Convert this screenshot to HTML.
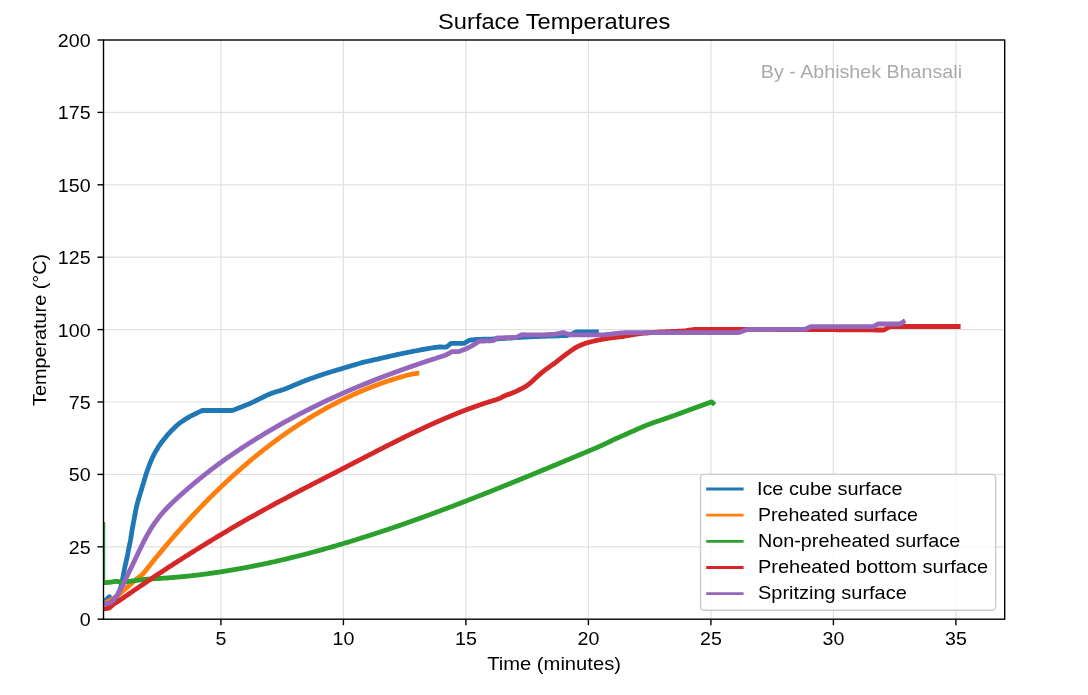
<!DOCTYPE html>
<html><head><meta charset="utf-8"><style>
html,body{margin:0;padding:0;background:#fff;overflow:hidden;}
svg{display:block;will-change:transform;}
text{font-family:"Liberation Sans",sans-serif;fill:#000;}
</style></head><body>
<svg width="1088" height="695" viewBox="0 0 1088 695">
<defs><clipPath id="ax"><rect x="103.5" y="40.0" width="901.2" height="579.2"/></clipPath></defs>
<rect width="1088" height="695" fill="#fff"/>
<g stroke="#e1e1e1" stroke-width="1.2"><line x1="220.9" y1="40.0" x2="220.9" y2="619.2"/><line x1="343.4" y1="40.0" x2="343.4" y2="619.2"/><line x1="465.9" y1="40.0" x2="465.9" y2="619.2"/><line x1="588.4" y1="40.0" x2="588.4" y2="619.2"/><line x1="710.9" y1="40.0" x2="710.9" y2="619.2"/><line x1="833.4" y1="40.0" x2="833.4" y2="619.2"/><line x1="955.9" y1="40.0" x2="955.9" y2="619.2"/><line x1="103.5" y1="546.8" x2="1004.7" y2="546.8"/><line x1="103.5" y1="474.4" x2="1004.7" y2="474.4"/><line x1="103.5" y1="402.0" x2="1004.7" y2="402.0"/><line x1="103.5" y1="329.6" x2="1004.7" y2="329.6"/><line x1="103.5" y1="257.2" x2="1004.7" y2="257.2"/><line x1="103.5" y1="184.8" x2="1004.7" y2="184.8"/><line x1="103.5" y1="112.4" x2="1004.7" y2="112.4"/></g>
<text x="760.80" y="77.7" font-size="18.2" textLength="201.23" lengthAdjust="spacingAndGlyphs" style="fill:#aaaaaa">By - Abhishek Bhansali</text>
<g clip-path="url(#ax)" fill="none" stroke-width="4.8" stroke-linejoin="round" stroke-linecap="butt">
<rect x="103.6" y="522" width="1.6" height="61" fill="#2ca02c" stroke="none"/>
<polyline points="103.6,601.5 104.4,601.0 105.3,600.4 106.1,599.9 106.9,599.2 107.5,598.5 108.2,597.8 108.9,597.0 109.5,596.8 109.7,597.7 110.0,598.7 110.3,599.7 110.6,600.6 110.9,601.5 111.8,601.0 112.7,600.6 113.6,600.2 114.5,599.7 115.4,599.3 116.1,598.7 116.5,597.8 116.9,596.9 117.3,595.9 117.7,595.0 118.0,594.1 118.4,593.2 118.8,592.2 119.2,591.3 119.6,590.4 120.0,589.5 120.3,588.5 120.6,587.6 120.9,586.6 121.1,585.7 121.4,584.7 121.6,583.7 121.8,582.8 122.0,581.8 122.3,580.8 122.5,579.8 122.7,578.8 122.8,577.9 123.0,576.9 123.2,575.9 123.4,574.9 123.6,573.9 123.7,572.9 123.9,572.0 124.1,571.0 124.3,570.0 124.5,569.0 124.7,568.0 124.9,567.1 125.1,566.1 125.3,565.1 125.5,564.1 125.8,563.2 126.0,562.2 126.2,561.2 126.4,560.2 126.6,559.2 126.9,558.3 127.1,557.3 127.3,556.3 127.5,555.3 127.7,554.4 127.9,553.4 128.1,552.4 128.3,551.4 128.4,550.4 128.6,549.4 128.8,548.5 129.0,547.5 129.2,546.5 129.4,545.5 129.6,544.5 129.8,543.6 130.0,542.6 130.2,541.6 130.4,540.6 130.6,539.6 130.7,538.7 130.9,537.7 131.0,536.7 131.2,535.7 131.4,534.7 131.5,533.7 131.7,532.7 131.8,531.7 132.0,530.8 132.2,529.8 132.3,528.8 132.5,527.8 132.7,526.8 132.9,525.8 133.1,524.9 133.2,523.9 133.4,522.9 133.6,521.9 133.8,520.9 134.0,519.9 134.2,519.0 134.4,518.0 134.5,517.0 134.7,516.0 134.9,515.0 135.1,514.0 135.3,513.1 135.4,512.1 135.6,511.1 135.8,510.1 136.0,509.1 136.2,508.2 136.4,507.2 136.7,506.2 136.9,505.2 137.1,504.3 137.4,503.3 137.6,502.3 137.9,501.4 138.2,500.4 138.5,499.4 138.7,498.5 139.0,497.5 139.3,496.6 139.6,495.6 139.9,494.7 140.2,493.7 140.5,492.7 140.8,491.8 141.1,490.8 141.4,489.9 141.7,488.9 141.9,488.0 142.2,487.0 142.5,486.0 142.8,485.1 143.1,484.1 143.4,483.2 143.7,482.2 144.0,481.3 144.2,480.3 144.5,479.3 144.8,478.4 145.1,477.4 145.4,476.5 145.7,475.5 146.0,474.6 146.3,473.6 146.6,472.7 147.0,471.7 147.3,470.8 147.6,469.8 148.0,468.9 148.3,468.0 148.6,467.0 149.0,466.1 149.3,465.1 149.7,464.2 150.1,463.3 150.4,462.4 150.8,461.4 151.2,460.5 151.6,459.6 152.0,458.7 152.4,457.8 152.8,456.9 153.3,456.0 153.7,455.1 154.2,454.2 154.6,453.3 155.1,452.4 155.6,451.6 156.1,450.7 156.7,449.8 157.2,449.0 157.7,448.1 158.2,447.3 158.7,446.4 159.3,445.6 159.8,444.8 160.4,444.0 161.0,443.1 161.6,442.3 162.2,441.6 162.8,440.8 163.4,440.0 164.1,439.2 164.7,438.4 165.3,437.7 166.0,436.9 166.6,436.1 167.2,435.3 167.9,434.6 168.5,433.8 169.2,433.1 169.9,432.3 170.6,431.6 171.2,430.9 171.9,430.2 172.6,429.5 173.4,428.8 174.1,428.1 174.8,427.4 175.5,426.7 176.2,426.0 177.0,425.3 177.7,424.7 178.5,424.0 179.3,423.4 180.1,422.8 180.9,422.2 181.7,421.7 182.5,421.1 183.4,420.6 184.2,420.0 185.0,419.4 185.9,418.9 186.7,418.4 187.6,417.9 188.4,417.4 189.3,416.9 190.2,416.4 191.1,415.9 192.0,415.5 192.8,415.0 193.7,414.6 194.6,414.1 195.5,413.7 196.4,413.3 197.3,412.8 198.2,412.4 199.1,412.0 200.0,411.5 200.9,411.1 201.8,410.6 202.8,410.5 203.8,410.5 204.8,410.5 205.8,410.5 206.8,410.5 207.8,410.5 208.8,410.5 209.8,410.5 210.8,410.5 211.8,410.5 212.8,410.5 213.8,410.5 214.8,410.5 215.8,410.5 216.8,410.5 217.8,410.5 218.8,410.5 219.8,410.5 220.8,410.5 221.8,410.5 222.8,410.5 223.8,410.5 224.8,410.5 225.8,410.5 226.8,410.5 227.8,410.5 228.8,410.5 229.8,410.5 230.8,410.5 231.8,410.5 232.8,410.4 233.7,410.0 234.6,409.6 235.5,409.3 236.5,408.9 237.4,408.5 238.3,408.1 239.3,407.8 240.2,407.4 241.1,407.0 242.0,406.7 243.0,406.3 243.9,405.9 244.8,405.6 245.8,405.2 246.7,404.8 247.6,404.5 248.6,404.1 249.5,403.7 250.4,403.3 251.3,402.9 252.2,402.5 253.1,402.0 254.0,401.6 254.9,401.2 255.8,400.7 256.7,400.3 257.6,399.8 258.5,399.4 259.4,398.9 260.3,398.5 261.2,398.0 262.1,397.6 263.0,397.2 263.9,396.7 264.8,396.3 265.7,395.8 266.6,395.4 267.5,395.0 268.4,394.6 269.3,394.2 270.2,393.8 271.2,393.5 272.1,393.1 273.0,392.8 274.0,392.5 274.9,392.1 275.9,391.8 276.8,391.5 277.8,391.3 278.8,391.0 279.7,390.7 280.7,390.4 281.6,390.1 282.6,389.8 283.5,389.5 284.5,389.2 285.4,388.8 286.3,388.5 287.3,388.1 288.2,387.7 289.1,387.3 290.0,387.0 291.0,386.6 291.9,386.2 292.8,385.8 293.7,385.4 294.6,385.0 295.6,384.6 296.5,384.2 297.4,383.9 298.3,383.5 299.3,383.1 300.2,382.7 301.1,382.3 302.0,381.9 302.9,381.5 303.9,381.2 304.8,380.8 305.7,380.4 306.7,380.1 307.6,379.7 308.5,379.4 309.5,379.0 310.4,378.7 311.4,378.4 312.3,378.0 313.3,377.7 314.2,377.4 315.1,377.1 316.1,376.7 317.0,376.4 318.0,376.1 318.9,375.7 319.9,375.4 320.8,375.1 321.8,374.8 322.7,374.4 323.7,374.1 324.6,373.8 325.6,373.5 326.5,373.2 327.5,372.9 328.4,372.6 329.4,372.3 330.3,372.0 331.3,371.8 332.2,371.5 333.2,371.2 334.2,370.9 335.1,370.6 336.1,370.3 337.0,370.0 338.0,369.7 339.0,369.5 339.9,369.2 340.9,368.9 341.8,368.6 342.8,368.3 343.7,368.0 344.7,367.7 345.7,367.5 346.6,367.2 347.6,366.9 348.5,366.6 349.5,366.3 350.5,366.0 351.4,365.7 352.4,365.5 353.3,365.2 354.3,364.9 355.2,364.6 356.2,364.3 357.2,364.0 358.1,363.8 359.1,363.5 360.0,363.2 361.0,362.9 362.0,362.7 362.9,362.4 363.9,362.2 364.9,361.9 365.9,361.7 366.8,361.5 367.8,361.3 368.8,361.0 369.8,360.8 370.7,360.6 371.7,360.4 372.7,360.2 373.7,359.9 374.6,359.7 375.6,359.5 376.6,359.3 377.6,359.1 378.5,358.9 379.5,358.6 380.5,358.4 381.5,358.2 382.4,358.0 383.4,357.7 384.4,357.5 385.4,357.3 386.3,357.1 387.3,356.8 388.3,356.6 389.3,356.4 390.2,356.2 391.2,356.0 392.2,355.7 393.2,355.5 394.1,355.3 395.1,355.1 396.1,354.8 397.1,354.6 398.0,354.4 399.0,354.2 400.0,354.0 401.0,353.8 401.9,353.6 402.9,353.4 403.9,353.2 404.9,353.0 405.9,352.8 406.8,352.6 407.8,352.4 408.8,352.2 409.8,352.0 410.8,351.8 411.8,351.6 412.7,351.4 413.7,351.2 414.7,351.0 415.7,350.8 416.7,350.7 417.6,350.5 418.6,350.3 419.6,350.1 420.6,349.9 421.6,349.7 422.6,349.6 423.5,349.4 424.5,349.2 425.5,349.0 426.5,348.9 427.5,348.7 428.5,348.5 429.5,348.4 430.4,348.2 431.4,348.0 432.4,347.8 433.4,347.7 434.4,347.5 435.4,347.4 436.4,347.3 437.3,347.1 438.3,347.1 439.3,347.0 440.3,347.0 441.3,347.0 442.3,347.1 443.3,347.1 444.3,347.1 445.3,347.1 446.3,347.1 447.1,346.5 447.9,345.9 448.7,345.3 449.5,344.6 450.2,344.0 451.0,343.4 452.0,343.4 453.0,343.4 454.0,343.4 455.0,343.4 456.0,343.4 457.0,343.4 458.0,343.4 459.0,343.4 460.0,343.4 461.0,343.4 462.0,343.4 463.0,343.4 464.0,343.3 464.9,342.8 465.7,342.3 466.6,341.8 467.5,341.3 468.3,340.8 469.2,340.3 470.2,340.1 471.2,340.0 472.2,339.9 473.1,339.8 474.1,339.7 475.1,339.6 476.1,339.5 477.1,339.4 478.1,339.3 479.1,339.3 480.1,339.3 481.1,339.3 482.1,339.2 483.1,339.2 484.1,339.2 485.1,339.2 486.1,339.2 487.1,339.1 488.1,339.1 489.1,339.1 490.1,339.1 491.1,339.1 492.1,339.1 493.1,339.0 494.1,339.0 495.1,339.0 496.1,338.9 497.1,338.9 498.1,338.8 499.1,338.7 500.1,338.7 501.1,338.6 502.1,338.6 503.1,338.5 504.1,338.4 505.1,338.4 506.1,338.3 507.1,338.2 508.1,338.2 509.1,338.1 510.1,338.1 511.1,338.0 512.1,337.9 513.1,337.9 514.1,337.8 515.1,337.7 516.1,337.7 517.1,337.6 518.1,337.5 519.1,337.5 520.1,337.4 521.1,337.4 522.1,337.3 523.1,337.2 524.1,337.2 525.1,337.1 526.1,337.0 527.1,337.0 528.1,336.9 529.1,336.9 530.1,336.8 531.1,336.8 532.0,336.7 533.0,336.7 534.0,336.7 535.0,336.6 536.0,336.6 537.0,336.6 538.0,336.5 539.0,336.5 540.0,336.4 541.0,336.4 542.0,336.4 543.0,336.3 544.0,336.3 545.0,336.3 546.0,336.2 547.0,336.2 548.0,336.2 549.0,336.1 550.0,336.1 551.0,336.1 552.0,336.0 553.0,336.0 554.0,336.0 555.0,335.9 556.0,335.9 557.0,335.9 558.0,335.8 559.0,335.8 560.0,335.7 561.0,335.7 562.0,335.7 563.0,335.6 564.0,335.6 565.0,335.6 566.0,335.5 567.0,335.5 568.0,335.2 568.9,334.9 569.9,334.6 570.9,334.3 571.8,334.1 572.7,333.6 573.6,333.2 574.5,332.7 575.4,332.3 576.3,332.0 577.3,332.0 578.3,332.0 579.3,332.0 580.3,332.0 581.3,332.0 582.3,332.0 583.3,332.0 584.3,332.0 585.3,332.0 586.3,332.0 587.3,332.0 588.3,332.0 589.3,332.0 590.3,332.0 591.3,332.0 592.3,332.0 593.3,332.0 594.3,332.0 595.3,332.0 596.3,332.0 597.3,332.0 598.3,332.0 598.8,332.0" stroke="#1f77b4"/>
<polyline points="103.6,603.5 104.5,603.1 105.4,602.7 106.3,602.2 107.2,601.8 108.1,601.4 109.0,601.0 109.9,600.5 110.8,600.0 111.6,599.5 112.5,598.9 113.3,598.4 114.2,597.9 115.0,597.4 115.9,596.8 116.7,596.3 117.6,595.8 118.4,595.1 119.1,594.5 119.8,593.8 120.6,593.1 121.3,592.4 122.0,591.8 122.8,591.1 123.5,590.4 124.3,589.8 125.0,589.1 125.8,588.5 126.5,587.8 127.3,587.2 128.1,586.5 128.8,585.8 129.6,585.2 130.3,584.5 131.0,583.8 131.8,583.2 132.5,582.5 133.3,581.8 134.0,581.2 134.8,580.5 135.5,579.9 136.3,579.2 137.1,578.6 137.9,578.0 138.7,577.4 139.5,576.8 140.2,576.2 141.0,575.6 141.8,575.0 142.5,574.3 143.2,573.6 143.8,572.8 144.5,572.1 145.1,571.3 145.7,570.5 146.4,569.8 147.0,569.0 147.6,568.2 148.2,567.4 148.8,566.6 149.5,565.8 150.1,565.0 150.7,564.3 151.3,563.5 151.9,562.7 152.6,561.9 153.2,561.1 153.8,560.4 154.5,559.6 155.1,558.8 155.7,558.0 156.3,557.3 157.0,556.5 157.6,555.7 158.2,554.9 158.9,554.2 159.5,553.4 160.2,552.6 160.8,551.9 161.4,551.1 162.1,550.3 162.7,549.6 163.4,548.8 164.0,548.0 164.6,547.3 165.3,546.5 165.9,545.7 166.6,545.0 167.2,544.2 167.9,543.4 168.5,542.7 169.2,541.9 169.8,541.1 170.5,540.4 171.1,539.6 171.8,538.9 172.4,538.1 173.1,537.4 173.7,536.6 174.4,535.9 175.1,535.1 175.7,534.3 176.4,533.6 177.0,532.8 177.7,532.1 178.3,531.3 179.0,530.6 179.7,529.8 180.3,529.1 181.0,528.3 181.7,527.6 182.3,526.9 183.0,526.1 183.7,525.4 184.3,524.6 185.0,523.9 185.7,523.1 186.4,522.4 187.0,521.7 187.7,520.9 188.4,520.2 189.1,519.5 189.7,518.7 190.4,518.0 191.1,517.2 191.8,516.5 192.5,515.8 193.1,515.0 193.8,514.3 194.5,513.6 195.2,512.9 195.9,512.1 196.6,511.4 197.3,510.7 198.0,510.0 198.6,509.3 199.3,508.5 200.0,507.8 200.7,507.1 201.4,506.4 202.1,505.7 202.8,505.0 203.5,504.2 204.2,503.5 204.9,502.8 205.6,502.1 206.3,501.4 207.0,500.7 207.7,499.9 208.4,499.2 209.1,498.5 209.8,497.8 210.5,497.1 211.2,496.4 212.0,495.7 212.7,495.0 213.4,494.3 214.1,493.6 214.8,492.9 215.5,492.2 216.3,491.5 217.0,490.8 217.7,490.1 218.4,489.4 219.1,488.7 219.8,488.0 220.6,487.3 221.3,486.6 222.0,485.9 222.7,485.3 223.5,484.6 224.2,483.9 224.9,483.2 225.6,482.5 226.4,481.8 227.1,481.2 227.8,480.5 228.6,479.8 229.3,479.1 230.1,478.4 230.8,477.8 231.5,477.1 232.3,476.4 233.0,475.7 233.7,475.1 234.5,474.4 235.2,473.7 236.0,473.1 236.7,472.4 237.5,471.7 238.2,471.1 239.0,470.4 239.7,469.8 240.5,469.1 241.2,468.5 242.0,467.8 242.7,467.1 243.5,466.5 244.3,465.8 245.0,465.2 245.8,464.5 246.5,463.9 247.3,463.2 248.0,462.6 248.8,461.9 249.6,461.3 250.3,460.6 251.1,460.0 251.9,459.3 252.6,458.7 253.4,458.1 254.2,457.4 255.0,456.8 255.7,456.2 256.5,455.5 257.3,454.9 258.1,454.3 258.8,453.7 259.6,453.0 260.4,452.4 261.2,451.8 262.0,451.2 262.8,450.6 263.5,449.9 264.3,449.3 265.1,448.7 265.9,448.1 266.7,447.5 267.5,446.9 268.3,446.3 269.1,445.7 269.9,445.0 270.7,444.4 271.5,443.8 272.3,443.2 273.1,442.6 273.9,442.0 274.7,441.4 275.5,440.8 276.3,440.2 277.1,439.6 277.9,439.1 278.7,438.5 279.5,437.9 280.3,437.3 281.1,436.7 281.9,436.1 282.8,435.6 283.6,435.0 284.4,434.4 285.2,433.8 286.0,433.3 286.8,432.7 287.7,432.1 288.5,431.5 289.3,431.0 290.1,430.4 291.0,429.8 291.8,429.3 292.6,428.7 293.4,428.2 294.3,427.6 295.1,427.1 295.9,426.5 296.8,426.0 297.6,425.4 298.5,424.9 299.3,424.3 300.1,423.8 301.0,423.2 301.8,422.7 302.7,422.2 303.5,421.6 304.4,421.1 305.2,420.6 306.1,420.0 306.9,419.5 307.8,419.0 308.6,418.4 309.5,417.9 310.3,417.4 311.2,416.9 312.0,416.4 312.9,415.9 313.7,415.3 314.6,414.8 315.5,414.3 316.3,413.8 317.2,413.3 318.1,412.8 318.9,412.3 319.8,411.8 320.7,411.3 321.5,410.8 322.4,410.3 323.3,409.8 324.1,409.4 325.0,408.9 325.9,408.4 326.8,407.9 327.6,407.4 328.5,406.9 329.4,406.5 330.3,406.0 331.2,405.5 332.0,405.1 332.9,404.6 333.8,404.1 334.7,403.7 335.6,403.2 336.5,402.8 337.4,402.3 338.3,401.8 339.2,401.4 340.0,400.9 340.9,400.5 341.8,400.1 342.7,399.6 343.6,399.2 344.5,398.8 345.4,398.3 346.3,397.9 347.2,397.5 348.1,397.0 349.1,396.6 350.0,396.2 350.9,395.8 351.8,395.4 352.7,394.9 353.6,394.5 354.5,394.1 355.4,393.7 356.3,393.3 357.3,392.9 358.2,392.5 359.1,392.1 360.0,391.7 360.9,391.3 361.8,390.9 362.8,390.5 363.7,390.1 364.6,389.7 365.5,389.4 366.5,389.0 367.4,388.6 368.3,388.2 369.2,387.9 370.2,387.5 371.1,387.1 372.0,386.8 373.0,386.4 373.9,386.1 374.8,385.7 375.8,385.4 376.7,385.0 377.7,384.7 378.6,384.3 379.5,384.0 380.5,383.6 381.4,383.3 382.3,382.9 383.3,382.6 384.2,382.3 385.2,381.9 386.1,381.6 387.1,381.3 388.0,381.0 389.0,380.7 389.9,380.4 390.9,380.1 391.8,379.8 392.8,379.4 393.7,379.1 394.7,378.8 395.6,378.6 396.6,378.3 397.5,378.0 398.5,377.7 399.5,377.4 400.4,377.1 401.4,376.8 402.3,376.6 403.3,376.3 404.3,376.0 405.2,375.7 406.2,375.5 407.2,375.2 408.1,375.0 409.1,374.7 410.1,374.5 411.0,374.3 412.0,374.1 413.0,373.9 414.0,373.8 414.9,373.7 415.8,373.5 416.7,373.4 417.7,373.3 418.7,373.2 419.3,373.2" stroke="#ff7f0e"/>
<polyline points="103.6,582.7 104.6,582.6 105.6,582.6 106.6,582.5 107.6,582.4 108.6,582.4 109.6,582.3 110.6,582.1 111.6,582.0 112.5,581.8 113.5,581.7 114.5,581.5 115.5,581.4 116.5,581.4 117.5,581.5 118.5,581.6 119.5,581.8 120.5,581.9 121.5,582.0 122.5,582.2 123.4,582.3 124.4,582.1 125.4,582.0 126.4,581.7 127.4,581.6 128.4,581.4 129.4,581.3 130.4,581.2 131.4,581.0 132.3,580.9 133.3,580.8 134.3,580.7 135.3,580.5 136.3,580.4 137.3,580.3 138.3,580.1 139.3,580.0 140.3,579.9 141.3,579.8 142.3,579.7 143.2,579.6 144.2,579.5 145.2,579.4 146.2,579.3 147.2,579.2 148.2,579.2 149.2,579.1 150.2,579.0 151.2,579.0 152.2,578.9 153.2,578.8 154.2,578.8 155.2,578.7 156.2,578.7 157.2,578.6 158.2,578.5 159.2,578.5 160.2,578.4 161.2,578.4 162.2,578.3 163.2,578.2 164.2,578.2 165.2,578.1 166.2,578.0 167.2,578.0 168.2,577.9 169.2,577.8 170.2,577.7 171.2,577.7 172.2,577.6 173.2,577.5 174.2,577.4 175.2,577.3 176.2,577.2 177.2,577.2 178.1,577.1 179.1,577.0 180.1,576.9 181.1,576.8 182.1,576.7 183.1,576.6 184.1,576.5 185.1,576.4 186.1,576.3 187.1,576.2 188.1,576.1 189.1,576.0 190.1,575.9 191.1,575.8 192.1,575.7 193.1,575.5 194.1,575.4 195.1,575.3 196.0,575.2 197.0,575.1 198.0,575.0 199.0,574.8 200.0,574.7 201.0,574.6 202.0,574.5 203.0,574.3 204.0,574.2 205.0,574.1 206.0,573.9 207.0,573.8 208.0,573.7 208.9,573.5 209.9,573.4 210.9,573.3 211.9,573.1 212.9,573.0 213.9,572.9 214.9,572.7 215.9,572.6 216.9,572.4 217.9,572.3 218.8,572.1 219.8,572.0 220.8,571.8 221.8,571.7 222.8,571.5 223.8,571.4 224.8,571.2 225.8,571.1 226.7,570.9 227.7,570.7 228.7,570.6 229.7,570.4 230.7,570.2 231.7,570.1 232.7,569.9 233.6,569.7 234.6,569.6 235.6,569.4 236.6,569.2 237.6,569.1 238.6,568.9 239.6,568.7 240.5,568.5 241.5,568.4 242.5,568.2 243.5,568.0 244.5,567.8 245.5,567.6 246.4,567.4 247.4,567.3 248.4,567.1 249.4,566.9 250.4,566.7 251.3,566.5 252.3,566.3 253.3,566.1 254.3,565.9 255.3,565.7 256.3,565.5 257.2,565.3 258.2,565.1 259.2,564.9 260.2,564.7 261.2,564.5 262.1,564.3 263.1,564.1 264.1,563.9 265.1,563.7 266.0,563.5 267.0,563.3 268.0,563.1 269.0,562.9 270.0,562.7 270.9,562.4 271.9,562.2 272.9,562.0 273.9,561.8 274.8,561.6 275.8,561.4 276.8,561.1 277.8,560.9 278.7,560.7 279.7,560.5 280.7,560.2 281.7,560.0 282.6,559.8 283.6,559.5 284.6,559.3 285.6,559.1 286.5,558.9 287.5,558.6 288.5,558.4 289.4,558.2 290.4,557.9 291.4,557.7 292.4,557.4 293.3,557.2 294.3,557.0 295.3,556.7 296.2,556.5 297.2,556.2 298.2,556.0 299.1,555.8 300.1,555.5 301.1,555.3 302.1,555.0 303.0,554.8 304.0,554.5 305.0,554.3 305.9,554.0 306.9,553.8 307.9,553.5 308.8,553.3 309.8,553.0 310.8,552.7 311.7,552.5 312.7,552.2 313.7,552.0 314.6,551.7 315.6,551.4 316.6,551.2 317.5,550.9 318.5,550.6 319.4,550.4 320.4,550.1 321.4,549.9 322.3,549.6 323.3,549.3 324.3,549.1 325.2,548.8 326.2,548.5 327.2,548.2 328.1,548.0 329.1,547.7 330.0,547.4 331.0,547.2 332.0,546.9 332.9,546.6 333.9,546.3 334.8,546.1 335.8,545.8 336.8,545.5 337.7,545.2 338.7,544.9 339.6,544.7 340.6,544.4 341.6,544.1 342.5,543.8 343.5,543.5 344.4,543.2 345.4,542.9 346.4,542.7 347.3,542.4 348.3,542.1 349.2,541.8 350.2,541.5 351.1,541.2 352.1,540.9 353.1,540.6 354.0,540.3 355.0,540.0 355.9,539.7 356.9,539.4 357.8,539.1 358.8,538.8 359.7,538.5 360.7,538.2 361.6,537.9 362.6,537.6 363.6,537.3 364.5,537.0 365.5,536.7 366.4,536.4 367.4,536.1 368.3,535.8 369.3,535.5 370.2,535.2 371.2,534.9 372.1,534.6 373.1,534.3 374.0,534.0 375.0,533.7 375.9,533.3 376.9,533.0 377.8,532.7 378.8,532.4 379.7,532.1 380.7,531.8 381.6,531.5 382.6,531.2 383.5,530.8 384.5,530.5 385.4,530.2 386.4,529.9 387.3,529.6 388.3,529.3 389.2,529.0 390.2,528.6 391.1,528.3 392.1,528.0 393.0,527.7 394.0,527.4 394.9,527.0 395.8,526.7 396.8,526.4 397.7,526.1 398.7,525.7 399.6,525.4 400.6,525.1 401.5,524.8 402.5,524.4 403.4,524.1 404.3,523.8 405.3,523.4 406.2,523.1 407.2,522.8 408.1,522.4 409.1,522.1 410.0,521.8 411.0,521.4 411.9,521.1 412.8,520.8 413.8,520.4 414.7,520.1 415.7,519.8 416.6,519.4 417.5,519.1 418.5,518.8 419.4,518.4 420.4,518.1 421.3,517.7 422.2,517.4 423.2,517.1 424.1,516.7 425.1,516.4 426.0,516.0 426.9,515.7 427.9,515.3 428.8,515.0 429.8,514.7 430.7,514.3 431.6,514.0 432.6,513.6 433.5,513.3 434.5,512.9 435.4,512.6 436.3,512.2 437.3,511.9 438.2,511.5 439.1,511.2 440.1,510.8 441.0,510.5 442.0,510.1 442.9,509.8 443.8,509.4 444.8,509.1 445.7,508.7 446.6,508.4 447.6,508.0 448.5,507.7 449.4,507.3 450.4,507.0 451.3,506.6 452.2,506.3 453.2,505.9 454.1,505.6 455.1,505.2 456.0,504.8 456.9,504.5 457.9,504.1 458.8,503.8 459.7,503.4 460.7,503.1 461.6,502.7 462.5,502.3 463.5,502.0 464.4,501.6 465.3,501.3 466.3,500.9 467.2,500.5 468.1,500.2 469.1,499.8 470.0,499.4 470.9,499.1 471.8,498.7 472.8,498.4 473.7,498.0 474.6,497.6 475.6,497.3 476.5,496.9 477.4,496.5 478.4,496.2 479.3,495.8 480.2,495.4 481.2,495.1 482.1,494.7 483.0,494.3 483.9,494.0 484.9,493.6 485.8,493.2 486.7,492.9 487.7,492.5 488.6,492.1 489.5,491.8 490.4,491.4 491.4,491.0 492.3,490.6 493.2,490.3 494.2,489.9 495.1,489.5 496.0,489.2 496.9,488.8 497.9,488.4 498.8,488.0 499.7,487.7 500.7,487.3 501.6,486.9 502.5,486.6 503.4,486.2 504.4,485.8 505.3,485.4 506.2,485.1 507.2,484.7 508.1,484.3 509.0,483.9 509.9,483.6 510.9,483.2 511.8,482.8 512.7,482.4 513.7,482.1 514.6,481.7 515.5,481.3 516.4,480.9 517.4,480.6 518.3,480.2 519.2,479.8 520.1,479.4 521.1,479.1 522.0,478.7 522.9,478.3 523.8,477.9 524.8,477.5 525.7,477.2 526.6,476.8 527.5,476.4 528.5,476.0 529.4,475.6 530.3,475.3 531.2,474.9 532.2,474.5 533.1,474.1 534.0,473.7 534.9,473.4 535.9,473.0 536.8,472.6 537.7,472.2 538.6,471.8 539.6,471.5 540.5,471.1 541.4,470.7 542.3,470.3 543.3,469.9 544.2,469.6 545.1,469.2 546.0,468.8 547.0,468.4 547.9,468.0 548.8,467.6 549.7,467.3 550.6,466.9 551.6,466.5 552.5,466.1 553.4,465.7 554.3,465.3 555.3,465.0 556.2,464.6 557.1,464.2 558.0,463.8 559.0,463.4 559.9,463.0 560.8,462.6 561.7,462.3 562.7,461.9 563.6,461.5 564.5,461.1 565.4,460.7 566.3,460.3 567.3,460.0 568.2,459.6 569.1,459.2 570.0,458.8 571.0,458.4 571.9,458.0 572.8,457.6 573.7,457.3 574.6,456.9 575.6,456.5 576.5,456.1 577.4,455.7 578.3,455.3 579.3,454.9 580.2,454.6 581.1,454.2 582.0,453.8 582.9,453.4 583.9,453.0 584.8,452.6 585.7,452.2 586.6,451.9 587.6,451.5 588.5,451.1 589.4,450.7 590.3,450.3 591.3,449.9 592.2,449.5 593.1,449.1 594.0,448.8 594.9,448.4 595.9,448.0 596.8,447.6 597.7,447.2 598.6,446.8 599.5,446.4 600.4,446.0 601.3,445.6 602.2,445.1 603.2,444.7 604.1,444.3 605.0,443.9 605.9,443.4 606.8,443.0 607.7,442.6 608.6,442.1 609.5,441.7 610.4,441.3 611.3,440.8 612.2,440.4 613.1,440.0 614.0,439.5 614.9,439.1 615.8,438.7 616.7,438.3 617.6,437.9 618.5,437.5 619.4,437.1 620.4,436.7 621.3,436.3 622.2,435.9 623.1,435.5 624.0,435.1 624.9,434.7 625.8,434.3 626.8,433.9 627.7,433.5 628.6,433.0 629.5,432.6 630.4,432.2 631.3,431.8 632.2,431.4 633.2,431.0 634.1,430.6 635.0,430.2 635.9,429.8 636.8,429.4 637.7,429.0 638.6,428.6 639.6,428.2 640.5,427.8 641.4,427.4 642.3,427.0 643.2,426.6 644.2,426.2 645.1,425.9 646.0,425.5 646.9,425.1 647.9,424.7 648.8,424.4 649.7,424.0 650.7,423.7 651.6,423.3 652.5,423.0 653.5,422.6 654.4,422.3 655.4,422.0 656.3,421.7 657.3,421.3 658.2,421.0 659.2,420.7 660.1,420.4 661.0,420.0 662.0,419.7 662.9,419.4 663.9,419.1 664.8,418.8 665.8,418.4 666.7,418.1 667.7,417.8 668.6,417.5 669.6,417.1 670.5,416.8 671.4,416.5 672.4,416.1 673.3,415.8 674.3,415.5 675.2,415.1 676.2,414.8 677.1,414.4 678.0,414.1 679.0,413.8 679.9,413.4 680.9,413.1 681.8,412.7 682.7,412.4 683.7,412.0 684.6,411.7 685.5,411.3 686.5,411.0 687.4,410.6 688.4,410.3 689.3,409.9 690.2,409.6 691.2,409.2 692.1,408.9 693.0,408.6 694.0,408.2 694.9,407.9 695.9,407.5 696.8,407.2 697.7,406.9 698.7,406.5 699.6,406.2 700.5,405.9 701.5,405.6 702.4,405.2 703.4,404.9 704.3,404.5 705.3,404.1 706.2,403.8 707.1,403.4 708.1,403.1 709.0,402.7 710.0,402.4 710.9,402.1 711.8,402.0 712.5,402.7 713.2,403.3 714.0,404.0 714.7,404.7 714.7,404.7" stroke="#2ca02c"/>
<polyline points="103.6,609.0 104.6,608.8 105.6,608.7 106.6,608.5 107.5,608.3 108.5,608.2 109.5,607.9 110.2,607.2 111.0,606.6 111.7,605.9 112.4,605.2 113.2,604.6 113.9,603.9 114.8,603.3 115.6,602.8 116.5,602.3 117.3,601.8 118.2,601.3 119.0,600.8 119.9,600.2 120.7,599.6 121.5,599.0 122.3,598.5 123.2,597.9 124.0,597.4 124.8,596.8 125.6,596.2 126.4,595.6 127.3,595.1 128.1,594.5 128.9,593.9 129.7,593.4 130.6,592.8 131.4,592.2 132.2,591.7 133.0,591.1 133.8,590.5 134.7,590.0 135.5,589.4 136.3,588.8 137.2,588.3 138.0,587.7 138.8,587.2 139.6,586.6 140.5,586.0 141.3,585.5 142.1,584.9 143.0,584.4 143.8,583.8 144.6,583.2 145.4,582.7 146.3,582.1 147.1,581.6 147.9,581.0 148.8,580.5 149.6,579.9 150.4,579.3 151.2,578.8 152.1,578.2 152.9,577.7 153.7,577.1 154.6,576.5 155.4,576.0 156.2,575.4 157.1,574.9 157.9,574.3 158.7,573.8 159.6,573.2 160.4,572.7 161.3,572.1 162.1,571.6 162.9,571.1 163.8,570.5 164.6,569.9 165.4,569.4 166.3,568.8 167.1,568.3 167.9,567.7 168.8,567.2 169.6,566.6 170.4,566.1 171.3,565.6 172.1,565.0 173.0,564.5 173.8,563.9 174.6,563.4 175.5,562.9 176.3,562.3 177.2,561.8 178.0,561.2 178.9,560.7 179.7,560.2 180.5,559.6 181.4,559.1 182.2,558.5 183.1,558.0 183.9,557.5 184.7,556.9 185.6,556.4 186.4,555.8 187.3,555.3 188.1,554.8 189.0,554.3 189.8,553.7 190.7,553.2 191.5,552.7 192.4,552.1 193.2,551.6 194.1,551.1 194.9,550.5 195.8,550.0 196.6,549.5 197.5,549.0 198.3,548.4 199.2,547.9 200.0,547.4 200.9,546.8 201.7,546.3 202.5,545.8 203.4,545.3 204.3,544.7 205.1,544.2 206.0,543.7 206.8,543.2 207.7,542.6 208.5,542.1 209.4,541.6 210.2,541.1 211.1,540.6 211.9,540.0 212.8,539.5 213.6,539.0 214.5,538.5 215.3,538.0 216.2,537.4 217.1,536.9 217.9,536.4 218.8,535.9 219.6,535.4 220.5,534.9 221.3,534.4 222.2,533.8 223.1,533.3 223.9,532.8 224.8,532.3 225.6,531.8 226.5,531.3 227.4,530.8 228.2,530.3 229.1,529.7 229.9,529.2 230.8,528.7 231.7,528.2 232.5,527.7 233.4,527.2 234.3,526.7 235.1,526.2 236.0,525.7 236.8,525.2 237.7,524.7 238.6,524.2 239.4,523.7 240.3,523.2 241.2,522.7 242.0,522.2 242.9,521.7 243.8,521.2 244.6,520.7 245.5,520.2 246.4,519.7 247.2,519.2 248.1,518.7 249.0,518.2 249.9,517.7 250.7,517.2 251.6,516.8 252.5,516.3 253.3,515.8 254.2,515.3 255.1,514.8 256.0,514.3 256.8,513.8 257.7,513.3 258.6,512.8 259.5,512.4 260.3,511.9 261.2,511.4 262.1,510.9 263.0,510.4 263.8,509.9 264.7,509.5 265.6,509.0 266.5,508.5 267.3,508.0 268.2,507.5 269.1,507.1 270.0,506.6 270.8,506.1 271.7,505.6 272.6,505.1 273.5,504.7 274.4,504.2 275.2,503.7 276.1,503.2 277.0,502.7 277.9,502.3 278.8,501.8 279.6,501.3 280.5,500.9 281.4,500.4 282.3,499.9 283.2,499.5 284.1,499.0 285.0,498.6 285.8,498.1 286.7,497.6 287.6,497.2 288.5,496.7 289.4,496.2 290.3,495.8 291.2,495.3 292.0,494.8 292.9,494.4 293.8,493.9 294.7,493.4 295.6,493.0 296.5,492.5 297.3,492.0 298.2,491.6 299.1,491.1 300.0,490.7 300.9,490.2 301.8,489.7 302.7,489.3 303.6,488.8 304.4,488.3 305.3,487.9 306.2,487.4 307.1,487.0 308.0,486.5 308.9,486.1 309.8,485.6 310.7,485.2 311.6,484.7 312.5,484.2 313.3,483.8 314.2,483.3 315.1,482.9 316.0,482.4 316.9,482.0 317.8,481.5 318.7,481.1 319.6,480.6 320.5,480.1 321.4,479.7 322.2,479.2 323.1,478.8 324.0,478.3 324.9,477.9 325.8,477.4 326.7,476.9 327.6,476.5 328.5,476.0 329.4,475.6 330.3,475.1 331.1,474.7 332.0,474.2 332.9,473.8 333.8,473.3 334.7,472.8 335.6,472.4 336.5,471.9 337.4,471.4 338.2,471.0 339.1,470.5 340.0,470.1 340.9,469.6 341.8,469.2 342.7,468.7 343.6,468.2 344.5,467.8 345.4,467.3 346.2,466.9 347.1,466.4 348.0,465.9 348.9,465.5 349.8,465.0 350.7,464.5 351.6,464.1 352.4,463.6 353.3,463.2 354.2,462.7 355.1,462.2 356.0,461.8 356.9,461.3 357.8,460.9 358.7,460.4 359.6,460.0 360.4,459.5 361.3,459.0 362.2,458.6 363.1,458.1 364.0,457.7 364.9,457.2 365.8,456.7 366.7,456.3 367.5,455.8 368.4,455.4 369.3,454.9 370.2,454.4 371.1,454.0 372.0,453.5 372.9,453.1 373.8,452.6 374.7,452.2 375.6,451.7 376.4,451.2 377.3,450.8 378.2,450.3 379.1,449.9 380.0,449.4 380.9,449.0 381.8,448.5 382.7,448.1 383.6,447.6 384.5,447.1 385.3,446.7 386.2,446.2 387.1,445.8 388.0,445.3 388.9,444.9 389.8,444.4 390.7,444.0 391.6,443.6 392.5,443.1 393.4,442.7 394.3,442.2 395.2,441.8 396.1,441.3 397.0,440.9 397.9,440.4 398.8,440.0 399.6,439.5 400.5,439.1 401.4,438.6 402.3,438.2 403.2,437.7 404.1,437.3 405.0,436.8 405.9,436.4 406.8,436.0 407.7,435.5 408.6,435.1 409.5,434.6 410.4,434.2 411.3,433.8 412.2,433.3 413.1,432.9 414.0,432.5 414.9,432.1 415.8,431.6 416.7,431.2 417.6,430.8 418.5,430.3 419.4,429.9 420.3,429.5 421.2,429.1 422.2,428.6 423.1,428.2 424.0,427.8 424.9,427.4 425.8,426.9 426.7,426.5 427.6,426.1 428.5,425.7 429.4,425.3 430.3,424.9 431.2,424.4 432.1,424.0 433.0,423.6 434.0,423.2 434.9,422.8 435.8,422.4 436.7,422.0 437.6,421.6 438.5,421.2 439.4,420.8 440.4,420.4 441.3,420.0 442.2,419.6 443.1,419.2 444.0,418.8 445.0,418.4 445.9,418.0 446.8,417.6 447.7,417.3 448.7,416.9 449.6,416.5 450.5,416.1 451.4,415.7 452.3,415.3 453.3,414.9 454.2,414.5 455.1,414.2 456.0,413.8 457.0,413.4 457.9,413.0 458.8,412.7 459.8,412.3 460.7,412.0 461.6,411.6 462.5,411.2 463.5,410.9 464.4,410.5 465.3,410.1 466.3,409.8 467.2,409.4 468.2,409.1 469.1,408.7 470.0,408.4 471.0,408.0 471.9,407.7 472.8,407.4 473.8,407.0 474.7,406.7 475.7,406.4 476.6,406.0 477.6,405.7 478.5,405.4 479.4,405.0 480.4,404.7 481.3,404.4 482.3,404.0 483.2,403.7 484.2,403.4 485.1,403.1 486.1,402.8 487.0,402.5 488.0,402.2 488.9,401.9 489.9,401.6 490.8,401.3 491.8,401.0 492.8,400.7 493.7,400.4 494.7,400.1 495.6,399.8 496.6,399.5 497.5,399.2 498.4,398.8 499.4,398.5 500.3,398.1 501.2,397.6 502.0,397.2 502.9,396.7 503.8,396.3 504.7,395.9 505.6,395.5 506.5,395.1 507.5,394.7 508.4,394.4 509.3,394.1 510.3,393.7 511.2,393.4 512.2,393.0 513.1,392.7 514.0,392.3 514.9,391.9 515.8,391.5 516.7,391.1 517.6,390.6 518.5,390.2 519.4,389.8 520.3,389.3 521.2,388.9 522.1,388.4 523.0,387.9 523.9,387.5 524.7,387.0 525.6,386.4 526.4,385.9 527.2,385.3 528.1,384.7 528.9,384.1 529.6,383.5 530.4,382.9 531.2,382.2 531.9,381.6 532.6,380.9 533.4,380.2 534.1,379.5 534.8,378.8 535.5,378.2 536.3,377.5 537.0,376.8 537.7,376.1 538.5,375.5 539.2,374.8 540.0,374.1 540.8,373.5 541.5,372.8 542.3,372.2 543.1,371.6 543.8,371.0 544.6,370.3 545.4,369.7 546.2,369.1 547.0,368.6 547.9,368.0 548.7,367.4 549.5,366.8 550.3,366.3 551.1,365.7 551.9,365.1 552.8,364.5 553.6,363.9 554.4,363.4 555.2,362.8 556.0,362.2 556.8,361.6 557.6,360.9 558.3,360.3 559.1,359.7 559.9,359.1 560.7,358.4 561.5,357.8 562.3,357.2 563.0,356.6 563.8,356.0 564.6,355.4 565.4,354.8 566.2,354.2 567.0,353.6 567.8,353.0 568.7,352.4 569.5,351.8 570.3,351.3 571.1,350.7 571.9,350.1 572.8,349.5 573.6,349.0 574.4,348.4 575.3,347.9 576.1,347.4 577.0,346.9 577.9,346.5 578.8,346.0 579.7,345.6 580.6,345.2 581.5,344.8 582.4,344.5 583.4,344.1 584.3,343.8 585.2,343.4 586.2,343.1 587.1,342.8 588.1,342.5 589.1,342.3 590.0,342.0 591.0,341.8 592.0,341.5 592.9,341.3 593.9,341.0 594.9,340.8 595.9,340.6 596.8,340.4 597.8,340.2 598.8,340.0 599.8,339.8 600.7,339.6 601.7,339.4 602.7,339.2 603.7,339.1 604.7,338.9 605.7,338.7 606.7,338.6 607.6,338.4 608.6,338.2 609.6,338.1 610.6,338.0 611.6,337.8 612.6,337.7 613.6,337.6 614.6,337.4 615.6,337.3 616.6,337.2 617.6,337.1 618.5,337.0 619.5,336.9 620.5,336.8 621.5,336.7 622.5,336.6 623.5,336.4 624.5,336.2 625.5,336.0 626.5,335.8 627.4,335.6 628.4,335.4 629.4,335.3 630.4,335.1 631.4,334.9 632.4,334.8 633.3,334.6 634.3,334.4 635.3,334.3 636.3,334.1 637.3,334.0 638.3,333.8 639.3,333.6 640.3,333.5 641.2,333.4 642.2,333.3 643.2,333.3 644.2,333.2 645.2,333.1 646.2,333.0 647.2,333.0 648.2,332.9 649.2,332.8 650.2,332.7 651.2,332.7 652.2,332.6 653.2,332.5 654.2,332.4 655.2,332.4 656.2,332.3 657.2,332.2 658.2,332.1 659.2,332.1 660.2,332.0 661.2,332.0 662.2,331.9 663.2,331.9 664.2,331.8 665.2,331.8 666.2,331.7 667.2,331.7 668.2,331.7 669.2,331.6 670.2,331.6 671.2,331.5 672.2,331.5 673.2,331.5 674.2,331.4 675.2,331.4 676.2,331.3 677.2,331.3 678.2,331.2 679.2,331.2 680.2,331.2 681.2,331.1 682.2,331.1 683.2,331.0 684.2,331.0 685.2,330.8 686.1,330.7 687.1,330.5 688.1,330.4 689.1,330.2 690.1,330.1 691.1,329.9 692.1,329.8 693.1,329.6 694.1,329.4 695.0,329.3 696.0,329.3 697.0,329.3 698.0,329.3 699.0,329.3 700.0,329.3 701.0,329.3 702.0,329.3 703.0,329.3 704.0,329.3 705.0,329.3 706.0,329.3 707.0,329.3 708.0,329.3 709.0,329.3 710.0,329.3 711.0,329.3 712.0,329.3 713.0,329.3 714.0,329.3 715.0,329.3 716.0,329.3 717.0,329.3 718.0,329.3 719.0,329.3 720.0,329.3 721.0,329.3 722.0,329.3 723.0,329.3 724.0,329.3 725.0,329.3 726.0,329.3 727.0,329.3 728.0,329.3 729.0,329.3 730.0,329.3 731.0,329.3 732.0,329.3 733.0,329.3 734.0,329.3 735.0,329.3 736.0,329.3 737.0,329.3 738.0,329.3 739.0,329.3 740.0,329.3 741.0,329.3 742.0,329.3 743.0,329.3 744.0,329.3 745.0,329.3 746.0,329.3 747.0,329.3 748.0,329.3 749.0,329.3 750.0,329.3 751.0,329.3 752.0,329.3 753.0,329.3 754.0,329.3 755.0,329.3 756.0,329.3 757.0,329.4 758.0,329.4 759.0,329.4 760.0,329.4 761.0,329.4 762.0,329.4 763.0,329.4 764.0,329.4 765.0,329.4 766.0,329.4 767.0,329.4 768.0,329.4 769.0,329.4 770.0,329.4 771.0,329.4 772.0,329.4 773.0,329.4 774.0,329.4 775.0,329.4 776.0,329.4 777.0,329.5 778.0,329.5 779.0,329.5 780.0,329.5 781.0,329.5 782.0,329.5 783.0,329.5 784.0,329.5 785.0,329.5 786.0,329.5 787.0,329.5 788.0,329.5 789.0,329.5 790.0,329.5 791.0,329.5 792.0,329.5 793.0,329.5 794.0,329.5 795.0,329.5 796.0,329.6 797.0,329.6 798.0,329.6 799.0,329.6 800.0,329.6 801.0,329.6 802.0,329.6 803.0,329.6 804.0,329.6 805.0,329.6 806.0,329.6 807.0,329.6 808.0,329.6 809.0,329.6 810.0,329.6 811.0,329.6 812.0,329.6 813.0,329.6 814.0,329.6 815.0,329.6 816.0,329.7 817.0,329.7 818.0,329.7 819.0,329.7 820.0,329.7 821.0,329.7 822.0,329.7 823.0,329.7 824.0,329.7 825.0,329.7 826.0,329.7 827.0,329.7 828.0,329.7 829.0,329.7 830.0,329.7 831.0,329.7 832.0,329.7 833.0,329.7 834.0,329.7 835.0,329.7 836.0,329.8 837.0,329.8 838.0,329.8 839.0,329.8 840.0,329.8 841.0,329.8 842.0,329.8 843.0,329.8 844.0,329.8 845.0,329.8 846.0,329.8 847.0,329.8 848.0,329.8 849.0,329.8 850.0,329.8 851.0,329.8 852.0,329.8 853.0,329.8 854.0,329.8 855.0,329.9 856.0,329.9 857.0,329.9 858.0,329.9 859.0,329.9 860.0,329.9 861.0,329.9 862.0,329.9 863.0,329.9 864.0,329.9 865.0,329.9 866.0,329.9 867.0,329.9 868.0,329.9 869.0,329.9 870.0,329.9 871.0,329.9 872.0,329.9 873.0,329.9 874.0,329.9 875.0,330.0 876.0,330.0 877.0,330.0 878.0,330.0 879.0,330.0 880.0,330.0 881.0,330.0 882.0,330.0 883.0,330.0 884.0,330.0 884.9,329.5 885.8,329.0 886.6,328.5 887.5,328.0 888.4,327.5 889.2,327.0 890.1,326.5 891.1,326.5 892.1,326.5 893.1,326.5 894.1,326.5 895.1,326.5 896.1,326.5 897.1,326.5 898.1,326.5 899.1,326.5 900.1,326.5 901.1,326.5 902.1,326.5 903.1,326.5 904.1,326.5 905.1,326.5 906.1,326.5 907.1,326.5 908.1,326.5 909.1,326.5 910.1,326.5 911.1,326.5 912.1,326.5 913.1,326.5 914.1,326.5 915.1,326.5 916.1,326.5 917.1,326.5 918.1,326.5 919.1,326.5 920.1,326.5 921.1,326.5 922.1,326.5 923.1,326.5 924.1,326.5 925.1,326.5 926.1,326.5 927.1,326.5 928.1,326.5 929.1,326.5 930.1,326.5 931.1,326.5 932.1,326.5 933.1,326.5 934.1,326.5 935.1,326.5 936.1,326.5 937.1,326.5 938.1,326.5 939.1,326.5 940.1,326.5 941.1,326.5 942.1,326.5 943.1,326.5 944.1,326.5 945.1,326.5 946.1,326.5 947.1,326.5 948.1,326.5 949.1,326.5 950.1,326.5 951.1,326.5 952.1,326.5 953.1,326.5 954.1,326.5 955.1,326.5 956.1,326.5 957.1,326.5 958.1,326.5 959.1,326.5 960.1,326.5 960.6,326.5" stroke="#d62728"/>
<polyline points="103.6,603.8 104.6,603.7 105.6,603.6 106.6,603.5 107.6,603.5 108.6,603.4 109.5,603.2 110.3,602.6 111.1,601.9 111.9,601.3 112.7,600.7 113.4,600.1 114.2,599.4 114.7,598.6 115.3,597.7 115.9,596.9 116.5,596.1 117.1,595.3 117.6,594.5 118.2,593.7 118.7,592.8 119.2,591.9 119.7,591.0 120.1,590.2 120.6,589.3 121.0,588.4 121.5,587.5 121.9,586.6 122.4,585.7 122.8,584.8 123.3,583.9 123.7,583.0 124.2,582.1 124.6,581.2 125.0,580.3 125.5,579.4 125.9,578.5 126.3,577.6 126.8,576.7 127.2,575.8 127.7,574.9 128.1,574.0 128.5,573.1 129.0,572.2 129.4,571.3 129.8,570.4 130.3,569.5 130.7,568.6 131.2,567.7 131.6,566.8 132.0,565.9 132.5,565.0 132.9,564.1 133.3,563.2 133.7,562.3 134.2,561.4 134.6,560.5 135.0,559.6 135.4,558.7 135.9,557.8 136.3,556.9 136.7,556.0 137.2,555.1 137.6,554.2 138.0,553.3 138.4,552.4 138.9,551.5 139.3,550.6 139.7,549.7 140.2,548.8 140.6,547.9 141.1,547.0 141.5,546.1 141.9,545.2 142.4,544.3 142.8,543.4 143.3,542.5 143.7,541.6 144.2,540.7 144.6,539.8 145.1,538.9 145.6,538.1 146.0,537.2 146.5,536.3 147.0,535.4 147.5,534.5 148.0,533.7 148.5,532.8 149.0,531.9 149.5,531.1 150.0,530.2 150.5,529.4 151.0,528.5 151.6,527.7 152.1,526.8 152.7,526.0 153.2,525.2 153.8,524.3 154.3,523.5 154.9,522.7 155.5,521.9 156.1,521.1 156.7,520.2 157.3,519.4 157.9,518.7 158.5,517.9 159.1,517.1 159.7,516.3 160.3,515.5 161.0,514.7 161.6,514.0 162.3,513.2 162.9,512.5 163.6,511.7 164.2,511.0 164.9,510.2 165.6,509.5 166.3,508.8 167.0,508.0 167.7,507.3 168.3,506.6 169.1,505.9 169.8,505.2 170.5,504.5 171.2,503.8 171.9,503.1 172.6,502.4 173.3,501.7 174.1,501.0 174.8,500.3 175.5,499.6 176.3,499.0 177.0,498.3 177.8,497.6 178.5,496.9 179.2,496.3 180.0,495.6 180.7,494.9 181.5,494.3 182.2,493.6 183.0,492.9 183.7,492.3 184.5,491.6 185.2,491.0 186.0,490.3 186.7,489.6 187.5,489.0 188.2,488.3 189.0,487.7 189.7,487.0 190.5,486.4 191.3,485.7 192.0,485.1 192.8,484.4 193.5,483.8 194.3,483.1 195.1,482.5 195.8,481.9 196.6,481.2 197.4,480.6 198.2,480.0 198.9,479.3 199.7,478.7 200.5,478.1 201.3,477.5 202.1,476.8 202.8,476.2 203.6,475.6 204.4,475.0 205.2,474.3 206.0,473.7 206.8,473.1 207.5,472.5 208.3,471.9 209.1,471.3 209.9,470.6 210.7,470.0 211.5,469.4 212.3,468.8 213.1,468.2 213.9,467.6 214.7,467.0 215.5,466.4 216.3,465.8 217.1,465.2 217.9,464.6 218.7,464.0 219.5,463.4 220.3,462.9 221.1,462.3 221.9,461.7 222.8,461.1 223.6,460.5 224.4,459.9 225.2,459.3 226.0,458.8 226.8,458.2 227.7,457.6 228.5,457.0 229.3,456.5 230.1,455.9 230.9,455.3 231.8,454.8 232.6,454.2 233.4,453.6 234.2,453.1 235.1,452.5 235.9,451.9 236.7,451.4 237.5,450.8 238.4,450.3 239.2,449.7 240.0,449.2 240.9,448.6 241.7,448.1 242.5,447.5 243.4,447.0 244.2,446.4 245.1,445.9 245.9,445.3 246.7,444.8 247.6,444.3 248.4,443.7 249.3,443.2 250.1,442.6 251.0,442.1 251.8,441.6 252.7,441.1 253.5,440.5 254.4,440.0 255.2,439.5 256.0,438.9 256.9,438.4 257.7,437.9 258.6,437.4 259.4,436.8 260.3,436.3 261.2,435.8 262.0,435.3 262.9,434.7 263.7,434.2 264.6,433.7 265.4,433.2 266.3,432.7 267.2,432.2 268.0,431.7 268.9,431.1 269.7,430.6 270.6,430.1 271.4,429.6 272.3,429.1 273.2,428.6 274.0,428.1 274.9,427.6 275.8,427.1 276.6,426.6 277.5,426.1 278.4,425.6 279.2,425.1 280.1,424.6 281.0,424.1 281.9,423.6 282.7,423.2 283.6,422.7 284.5,422.2 285.4,421.7 286.2,421.2 287.1,420.7 288.0,420.3 288.9,419.8 289.7,419.3 290.6,418.8 291.5,418.4 292.4,417.9 293.3,417.4 294.1,416.9 295.0,416.5 295.9,416.0 296.8,415.5 297.7,415.1 298.6,414.6 299.5,414.1 300.3,413.7 301.2,413.2 302.1,412.8 303.0,412.3 303.9,411.8 304.8,411.4 305.7,410.9 306.6,410.5 307.5,410.0 308.4,409.6 309.2,409.1 310.1,408.7 311.0,408.2 311.9,407.8 312.8,407.3 313.7,406.9 314.6,406.4 315.5,406.0 316.4,405.6 317.3,405.1 318.2,404.7 319.1,404.2 320.0,403.8 320.9,403.3 321.8,402.9 322.7,402.5 323.6,402.0 324.5,401.6 325.4,401.2 326.3,400.8 327.2,400.3 328.1,399.9 329.0,399.5 329.9,399.1 330.8,398.7 331.8,398.3 332.7,397.8 333.6,397.4 334.5,397.0 335.4,396.6 336.3,396.2 337.2,395.8 338.1,395.4 339.0,395.0 340.0,394.6 340.9,394.2 341.8,393.7 342.7,393.3 343.6,392.9 344.5,392.5 345.4,392.1 346.3,391.7 347.3,391.3 348.2,390.9 349.1,390.5 350.0,390.1 350.9,389.7 351.9,389.3 352.8,388.9 353.7,388.5 354.6,388.1 355.5,387.8 356.5,387.4 357.4,387.0 358.3,386.6 359.2,386.2 360.2,385.9 361.1,385.5 362.0,385.1 362.9,384.7 363.9,384.3 364.8,383.9 365.7,383.6 366.6,383.2 367.6,382.8 368.5,382.4 369.4,382.1 370.3,381.7 371.3,381.3 372.2,381.0 373.1,380.6 374.1,380.2 375.0,379.9 375.9,379.5 376.9,379.1 377.8,378.8 378.7,378.4 379.7,378.0 380.6,377.7 381.5,377.3 382.5,377.0 383.4,376.6 384.3,376.2 385.3,375.9 386.2,375.5 387.1,375.2 388.1,374.8 389.0,374.5 389.9,374.2 390.9,373.8 391.8,373.5 392.8,373.1 393.7,372.8 394.6,372.4 395.6,372.1 396.5,371.7 397.5,371.4 398.4,371.1 399.3,370.7 400.3,370.4 401.2,370.0 402.2,369.7 403.1,369.4 404.0,369.0 405.0,368.7 405.9,368.4 406.9,368.0 407.8,367.7 408.8,367.4 409.7,367.0 410.6,366.7 411.6,366.4 412.5,366.1 413.5,365.7 414.4,365.4 415.4,365.1 416.3,364.8 417.3,364.4 418.2,364.1 419.2,363.8 420.1,363.5 421.1,363.2 422.0,362.8 422.9,362.5 423.9,362.2 424.8,361.9 425.8,361.6 426.7,361.2 427.7,360.9 428.6,360.6 429.6,360.3 430.5,360.0 431.5,359.7 432.4,359.4 433.4,359.1 434.3,358.8 435.3,358.5 436.2,358.2 437.2,357.8 438.1,357.5 439.1,357.2 440.1,356.9 441.0,356.6 442.0,356.3 442.9,356.0 443.9,355.7 444.8,355.4 445.7,355.1 446.6,354.6 447.5,354.1 448.4,353.6 449.3,353.2 450.2,352.7 451.0,352.2 451.9,351.7 452.9,351.7 453.9,351.7 454.9,351.7 455.9,351.7 456.9,351.7 457.9,351.7 458.9,351.5 459.8,351.2 460.7,350.8 461.7,350.5 462.6,350.1 463.6,349.8 464.5,349.4 465.4,349.1 466.3,348.7 467.2,348.2 468.1,347.8 469.0,347.3 469.9,346.9 470.8,346.4 471.7,346.0 472.6,345.5 473.4,344.9 474.3,344.4 475.1,343.9 475.9,343.3 476.8,342.8 477.6,342.3 478.5,341.7 479.3,341.2 480.3,341.1 481.3,341.0 482.3,341.0 483.3,341.0 484.3,341.0 485.3,340.9 486.3,340.9 487.3,340.9 488.3,340.8 489.3,340.8 490.3,340.8 491.3,340.8 492.3,340.7 493.3,340.7 494.1,340.1 494.9,339.5 495.7,338.9 496.5,338.3 497.4,337.9 498.4,337.9 499.4,337.9 500.4,337.8 501.4,337.8 502.4,337.8 503.4,337.8 504.4,337.7 505.4,337.7 506.4,337.7 507.4,337.7 508.4,337.7 509.4,337.6 510.4,337.6 511.4,337.6 512.4,337.6 513.3,337.6 514.3,337.5 515.3,337.5 516.3,337.5 517.2,337.0 518.1,336.6 519.0,336.1 519.9,335.7 520.8,335.2 521.7,334.8 522.7,334.7 523.7,334.7 524.7,334.7 525.7,334.8 526.7,334.8 527.7,334.8 528.7,334.8 529.7,334.8 530.7,334.8 531.7,334.9 532.7,334.9 533.7,334.9 534.7,334.9 535.7,334.9 536.7,334.9 537.7,335.0 538.7,335.0 539.7,335.0 540.7,335.0 541.7,334.9 542.7,334.9 543.7,334.8 544.7,334.8 545.7,334.7 546.7,334.7 547.7,334.6 548.7,334.6 549.7,334.5 550.7,334.5 551.7,334.5 552.7,334.4 553.7,334.4 554.7,334.3 555.6,334.2 556.6,333.9 557.6,333.7 558.6,333.5 559.5,333.3 560.5,333.1 561.5,332.8 562.5,332.6 563.4,332.6 564.4,332.9 565.3,333.2 566.3,333.5 567.3,333.8 568.2,334.1 569.2,334.4 570.1,334.7 571.1,334.8 572.1,334.8 573.1,334.8 574.1,334.8 575.1,334.8 576.1,334.8 577.1,334.8 578.1,334.8 579.1,334.8 580.1,334.8 581.1,334.8 582.1,334.8 583.1,334.8 584.1,334.8 585.1,334.8 586.1,334.8 587.1,334.8 588.1,334.8 589.1,334.8 590.1,334.8 591.1,334.8 592.1,334.8 593.1,334.8 594.1,334.8 595.1,334.8 596.1,334.8 597.1,334.8 598.1,334.8 599.1,334.8 600.1,334.8 601.1,334.8 602.1,334.8 603.1,334.8 604.1,334.8 605.1,334.7 606.1,334.6 607.1,334.5 608.1,334.4 609.1,334.3 610.1,334.2 611.1,334.1 612.1,334.0 613.1,333.8 614.0,333.7 615.0,333.6 616.0,333.5 617.0,333.4 618.0,333.3 619.0,333.2 620.0,333.1 621.0,333.0 622.0,332.9 623.0,332.8 624.0,332.8 625.0,332.7 626.0,332.7 627.0,332.6 628.0,332.6 629.0,332.6 630.0,332.6 631.0,332.6 632.0,332.6 633.0,332.6 634.0,332.6 635.0,332.6 636.0,332.6 637.0,332.6 638.0,332.6 639.0,332.6 640.0,332.6 641.0,332.6 642.0,332.6 643.0,332.6 644.0,332.6 645.0,332.6 646.0,332.6 647.0,332.6 648.0,332.6 649.0,332.6 650.0,332.6 651.0,332.6 652.0,332.6 653.0,332.6 654.0,332.6 655.0,332.6 656.0,332.6 657.0,332.6 658.0,332.6 659.0,332.6 660.0,332.6 661.0,332.6 662.0,332.6 663.0,332.6 664.0,332.6 665.0,332.6 666.0,332.6 667.0,332.6 668.0,332.6 669.0,332.6 670.0,332.6 671.0,332.6 672.0,332.6 673.0,332.6 674.0,332.6 675.0,332.6 676.0,332.6 677.0,332.6 678.0,332.6 679.0,332.6 680.0,332.6 681.0,332.6 682.0,332.6 683.0,332.6 684.0,332.6 685.0,332.6 686.0,332.6 687.0,332.6 688.0,332.6 689.0,332.6 690.0,332.6 691.0,332.6 692.0,332.6 693.0,332.6 694.0,332.6 695.0,332.6 696.0,332.6 697.0,332.6 698.0,332.6 699.0,332.6 700.0,332.6 701.0,332.6 702.0,332.6 703.0,332.6 704.0,332.6 705.0,332.6 706.0,332.6 707.0,332.6 708.0,332.6 709.0,332.6 710.0,332.6 711.0,332.6 712.0,332.6 713.0,332.6 714.0,332.6 715.0,332.6 716.0,332.6 717.0,332.6 718.0,332.6 719.0,332.6 720.0,332.6 721.0,332.6 722.0,332.6 723.0,332.6 724.0,332.6 725.0,332.6 726.0,332.6 727.0,332.6 728.0,332.6 729.0,332.6 730.0,332.6 731.0,332.6 732.0,332.6 733.0,332.6 734.0,332.6 735.0,332.6 736.0,332.6 737.0,332.6 738.0,332.6 739.0,332.4 739.9,332.1 740.9,331.8 741.8,331.4 742.7,331.1 743.7,330.8 744.6,330.5 745.6,330.1 746.5,329.8 747.5,329.5 748.4,329.3 749.4,329.3 750.4,329.3 751.4,329.3 752.4,329.3 753.4,329.3 754.4,329.3 755.4,329.3 756.4,329.3 757.4,329.3 758.4,329.3 759.4,329.3 760.4,329.3 761.4,329.3 762.4,329.3 763.4,329.3 764.4,329.3 765.4,329.3 766.4,329.3 767.4,329.3 768.4,329.3 769.4,329.3 770.4,329.3 771.4,329.3 772.4,329.3 773.4,329.3 774.4,329.3 775.4,329.3 776.4,329.3 777.4,329.3 778.4,329.3 779.4,329.3 780.4,329.3 781.4,329.3 782.4,329.3 783.4,329.3 784.4,329.3 785.4,329.3 786.4,329.3 787.4,329.3 788.4,329.3 789.4,329.3 790.4,329.3 791.4,329.3 792.4,329.3 793.4,329.3 794.4,329.3 795.4,329.3 796.4,329.3 797.4,329.3 798.4,329.3 799.4,329.3 800.4,329.3 801.4,329.3 802.4,329.3 803.4,329.3 804.4,329.3 805.4,329.2 806.3,328.8 807.2,328.3 808.1,327.9 809.0,327.4 809.9,327.0 810.8,326.7 811.8,326.7 812.8,326.7 813.8,326.7 814.8,326.7 815.8,326.7 816.8,326.7 817.8,326.7 818.8,326.7 819.8,326.7 820.8,326.7 821.8,326.7 822.8,326.7 823.8,326.7 824.8,326.7 825.8,326.7 826.8,326.7 827.8,326.7 828.8,326.7 829.8,326.7 830.8,326.7 831.8,326.7 832.8,326.7 833.8,326.7 834.8,326.7 835.8,326.7 836.8,326.7 837.8,326.7 838.8,326.7 839.8,326.7 840.8,326.7 841.8,326.7 842.8,326.7 843.8,326.7 844.8,326.7 845.8,326.7 846.8,326.7 847.8,326.7 848.8,326.7 849.8,326.7 850.8,326.7 851.8,326.7 852.8,326.7 853.8,326.7 854.8,326.7 855.8,326.7 856.8,326.7 857.8,326.7 858.8,326.7 859.8,326.7 860.8,326.7 861.8,326.7 862.8,326.7 863.8,326.7 864.8,326.7 865.8,326.7 866.8,326.7 867.8,326.7 868.8,326.7 869.8,326.7 870.8,326.7 871.8,326.7 872.8,326.7 873.7,326.3 874.6,325.8 875.5,325.4 876.4,324.9 877.2,324.4 878.1,324.0 879.1,324.0 880.1,324.0 881.1,324.0 882.1,324.0 883.1,324.0 884.1,324.0 885.1,324.0 886.1,324.0 887.1,324.0 888.1,324.0 889.1,324.0 890.1,324.0 891.1,324.0 892.1,324.0 893.1,324.0 894.1,324.0 895.1,324.0 896.1,324.0 897.1,324.0 898.1,324.0 899.1,324.0 900.1,323.9 901.0,323.4 901.8,322.8 902.7,322.3 903.5,321.8 904.3,321.2 905.2,320.7 905.2,320.7" stroke="#9467bd"/>
</g>
<rect x="700.5" y="474.4" width="295.2" height="135.9" rx="3.5" fill="#fff" fill-opacity="0.8" stroke="#cccccc" stroke-width="1.4"/>
<g stroke-width="2.8"><line x1="706.2" y1="489.0" x2="743.6" y2="489.0" stroke="#1f77b4"/><text x="756.91" y="494.8" font-size="18.2" textLength="145.69" lengthAdjust="spacingAndGlyphs">Ice cube surface</text><line x1="706.2" y1="515.2" x2="743.6" y2="515.2" stroke="#ff7f0e"/><text x="758.00" y="520.9" font-size="18.2" textLength="159.81" lengthAdjust="spacingAndGlyphs">Preheated surface</text><line x1="706.2" y1="541.4" x2="743.6" y2="541.4" stroke="#2ca02c"/><text x="758.00" y="547.0" font-size="18.2" textLength="202.23" lengthAdjust="spacingAndGlyphs">Non-preheated surface</text><line x1="706.2" y1="567.5" x2="743.6" y2="567.5" stroke="#d62728"/><text x="758.00" y="573.2" font-size="18.2" textLength="230.11" lengthAdjust="spacingAndGlyphs">Preheated bottom surface</text><line x1="706.2" y1="593.7" x2="743.6" y2="593.7" stroke="#9467bd"/><text x="758.00" y="599.3" font-size="18.2" textLength="148.81" lengthAdjust="spacingAndGlyphs">Spritzing surface</text></g>
<g stroke="#000" stroke-width="1.4"><line x1="220.9" y1="619.2" x2="220.9" y2="625.2"/><line x1="343.4" y1="619.2" x2="343.4" y2="625.2"/><line x1="465.9" y1="619.2" x2="465.9" y2="625.2"/><line x1="588.4" y1="619.2" x2="588.4" y2="625.2"/><line x1="710.9" y1="619.2" x2="710.9" y2="625.2"/><line x1="833.4" y1="619.2" x2="833.4" y2="625.2"/><line x1="955.9" y1="619.2" x2="955.9" y2="625.2"/><line x1="97.5" y1="619.2" x2="103.5" y2="619.2"/><line x1="97.5" y1="546.8" x2="103.5" y2="546.8"/><line x1="97.5" y1="474.4" x2="103.5" y2="474.4"/><line x1="97.5" y1="402.0" x2="103.5" y2="402.0"/><line x1="97.5" y1="329.6" x2="103.5" y2="329.6"/><line x1="97.5" y1="257.2" x2="103.5" y2="257.2"/><line x1="97.5" y1="184.8" x2="103.5" y2="184.8"/><line x1="97.5" y1="112.4" x2="103.5" y2="112.4"/><line x1="97.5" y1="40.0" x2="103.5" y2="40.0"/></g>
<rect x="103.5" y="40.0" width="901.2" height="579.2" fill="none" stroke="#000" stroke-width="1.4"/>
<g font-size="18.2"><text x="215.43" y="645.2" textLength="10.94" lengthAdjust="spacingAndGlyphs">5</text><text x="332.47" y="645.2" textLength="21.85" lengthAdjust="spacingAndGlyphs">10</text><text x="454.97" y="645.2" textLength="21.85" lengthAdjust="spacingAndGlyphs">15</text><text x="577.47" y="645.2" textLength="21.85" lengthAdjust="spacingAndGlyphs">20</text><text x="699.97" y="645.2" textLength="21.85" lengthAdjust="spacingAndGlyphs">25</text><text x="822.47" y="645.2" textLength="21.85" lengthAdjust="spacingAndGlyphs">30</text><text x="944.97" y="645.2" textLength="21.85" lengthAdjust="spacingAndGlyphs">35</text><text x="79.66" y="626.1" textLength="10.94" lengthAdjust="spacingAndGlyphs">0</text><text x="68.75" y="553.7" textLength="21.85" lengthAdjust="spacingAndGlyphs">25</text><text x="68.75" y="481.3" textLength="21.85" lengthAdjust="spacingAndGlyphs">50</text><text x="68.75" y="408.9" textLength="21.85" lengthAdjust="spacingAndGlyphs">75</text><text x="57.81" y="336.5" textLength="32.79" lengthAdjust="spacingAndGlyphs">100</text><text x="57.81" y="264.1" textLength="32.79" lengthAdjust="spacingAndGlyphs">125</text><text x="57.81" y="191.7" textLength="32.79" lengthAdjust="spacingAndGlyphs">150</text><text x="57.81" y="119.3" textLength="32.79" lengthAdjust="spacingAndGlyphs">175</text><text x="57.81" y="46.9" textLength="32.79" lengthAdjust="spacingAndGlyphs">200</text></g>
<text x="438.10" y="29.1" font-size="21.5" textLength="232.15" lengthAdjust="spacingAndGlyphs">Surface Temperatures</text>
<text x="487.20" y="669.7" font-size="18.2" textLength="133.76" lengthAdjust="spacingAndGlyphs">Time (minutes)</text>
<text transform="rotate(-90)" x="-405.90" y="46.0" font-size="18.2" textLength="151.95" lengthAdjust="spacingAndGlyphs">Temperature (°C)</text>
</svg>
</body></html>
